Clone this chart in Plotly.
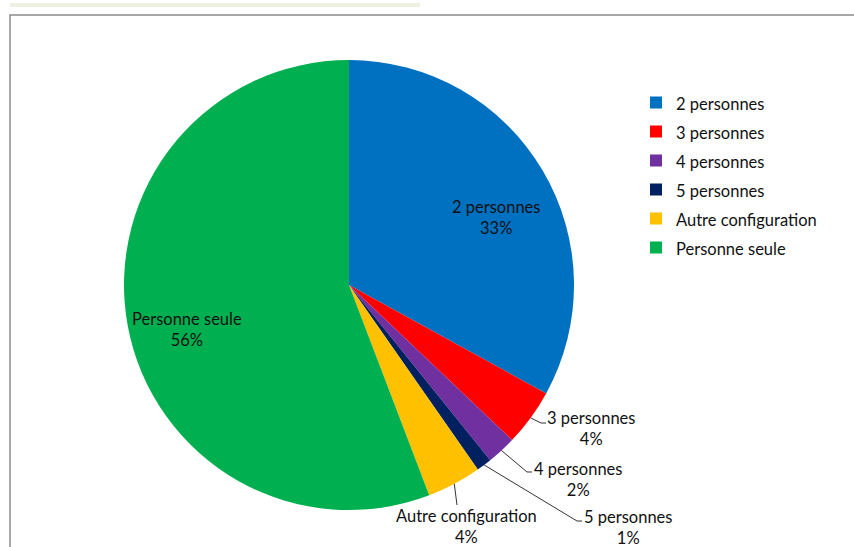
import math
import plotly.graph_objects as go

# household composition shares (%)
labels = ["2 personnes", "3 personnes", "4 personnes", "5 personnes",
          "Autre configuration", "Personne seule"]
values = [33.0, 4.1, 2.1, 1.1, 3.9, 55.8]
colors = ["#0070C0", "#FF0000", "#7030A0", "#002060", "#FFC000", "#00B050"]

W, H = 854, 547
CX, CY, R = 349, 285, 225
FONT = "Lato, 'Open Sans', sans-serif"


def px(x, y):
    return x / W, 1 - y / H


# wrap legend labels so the text stays small while the row height follows the legend font
legend_labels = [f'<span style="font-size:16.5px">{l}</span>' for l in labels]

fig = go.Figure(go.Pie(
    labels=legend_labels,
    values=values,
    marker=dict(colors=colors, line=dict(width=0)),
    sort=False,
    direction="clockwise",
    rotation=0,
    textinfo="none",
    hoverinfo="label+percent",
    domain=dict(x=[(CX - R) / W, (CX + R) / W],
                y=[1 - (CY + R) / H, 1 - (CY - R) / H]),
))

total = sum(values)
pct = [f"{round(v / total * 100)}%" for v in values]

# label placement (pixel coords) and leader line elbows
label_pos = {
    "2 personnes": (496, 217),
    "3 personnes": (591, 428),
    "4 personnes": (578, 479),
    "5 personnes": (628, 527),
    "Autre configuration": (466, 526),
    "Personne seule": (187, 329),
}
leaders = {
    "3 personnes": [(541, 423), (546, 423)],
    "4 personnes": [(527, 472), (532, 472)],
    "5 personnes": [(577, 521), (582, 521)],
    "Autre configuration": [(457, 505)],
}

annotations = []
shapes = []
cum = 0
for lab, v, p in zip(labels, values, pct):
    mid = (cum + v / 2) / total * 2 * math.pi
    cum += v
    x, y = label_pos[lab]
    ax, ay = px(x, y)
    annotations.append(dict(
        x=ax, y=ay, xref="paper", yref="paper", showarrow=False,
        xanchor="center", yanchor="middle",
        text=f"{lab}<br>{p}", font=dict(family=FONT, size=16.5, color="#111111"),
        align="center",
    ))
    if lab in leaders:
        sx = CX + R * math.sin(mid)
        sy = CY - R * math.cos(mid)
        pts = [(sx, sy)] + leaders[lab]
        path = "M " + " L ".join(f"{px(a, b)[0]},{px(a, b)[1]}" for a, b in pts)
        shapes.append(dict(type="path", path=path, xref="paper", yref="paper",
                           line=dict(color="#333333", width=1)))

# frame and top bar
x0, y0 = px(10, 15)
shapes.append(dict(type="rect", xref="paper", yref="paper",
                   x0=x0, y0=-0.05, x1=1.05, y1=y0,
                   line=dict(color="#8c8c8c", width=1.5), layer="below"))
bx0, by0 = px(10, 3)
bx1, by1 = px(420, 7)
shapes.append(dict(type="rect", xref="paper", yref="paper",
                   x0=bx0, y0=by1, x1=bx1, y1=by0,
                   fillcolor="#EEF0E2", line=dict(width=0), layer="below"))

lx, ly = px(636, 83)
fig.update_layout(
    width=W, height=H,
    margin=dict(l=0, r=0, t=0, b=0),
    paper_bgcolor="white",
    plot_bgcolor="white",
    font=dict(family=FONT, size=16.5, color="#111111"),
    showlegend=True,
    legend=dict(x=lx, y=ly, xanchor="left", yanchor="top",
                font=dict(family=FONT, size=20, color="#111111"),
                itemwidth=30, bgcolor="rgba(0,0,0,0)"),
    annotations=annotations,
    shapes=shapes,
)

fig.write_html("out.html", config={"displayModeBar": False},
               post_script="document.body.style.margin='0';")
